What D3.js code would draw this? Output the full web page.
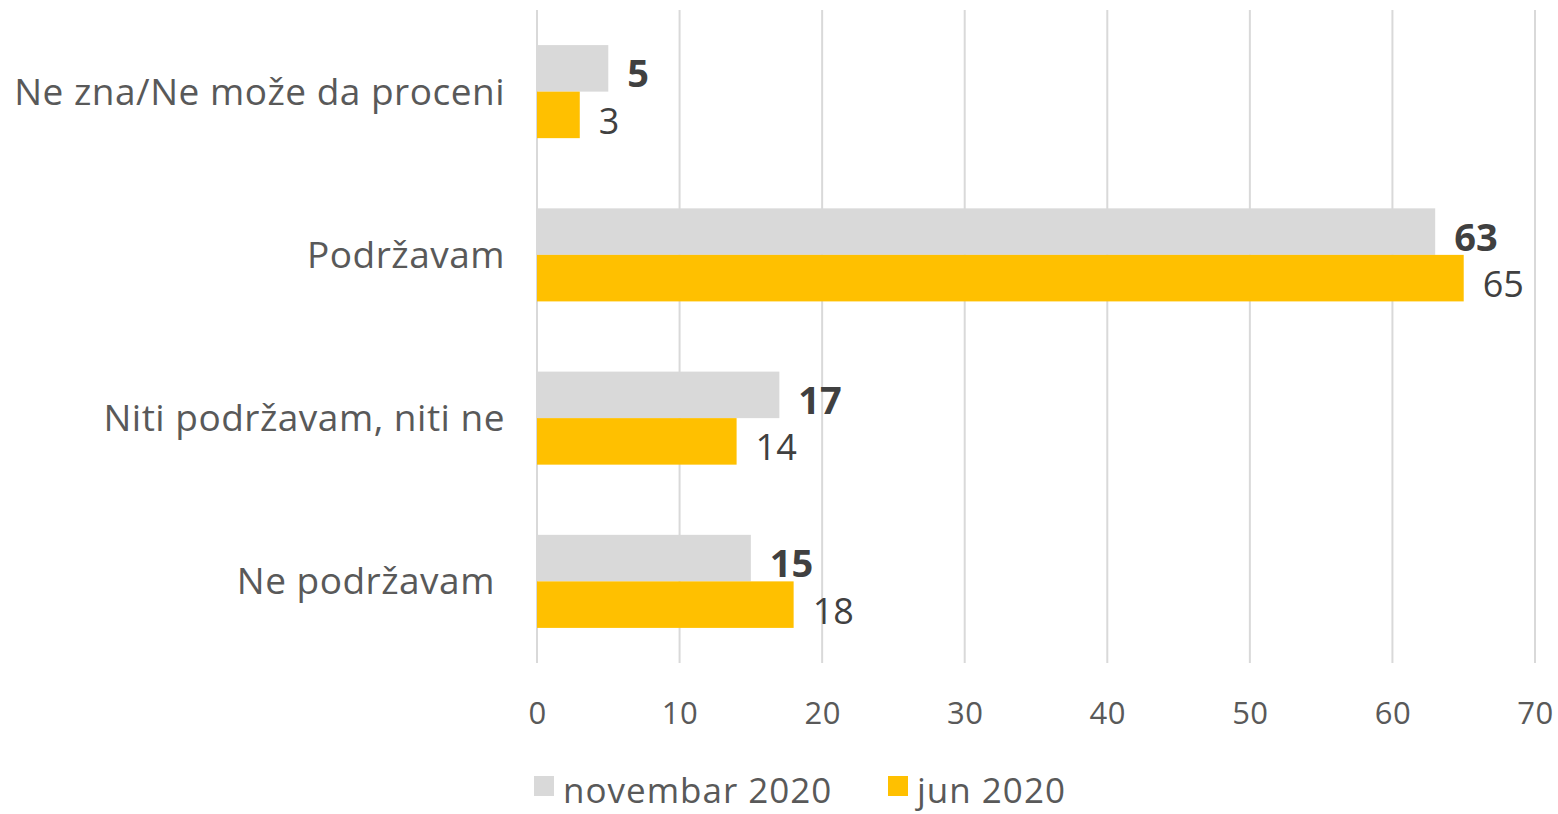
<!DOCTYPE html>
<html>
<head>
<meta charset="utf-8">
<script src="https://cdn.jsdelivr.net/npm/d3@7"></script>
<style>
  body { margin: 0; background: #fff; }
  svg text { font-family: "Open Sans", "Lato", sans-serif; }
</style>
</head>
<body>
<svg id="chart" width="1558" height="814"></svg>
<script>
// categories, top to bottom
const categories = ["Ne zna/Ne može da proceni", "Podržavam", "Niti podržavam, niti ne", "Ne podržavam "];
const seriesNames = ["novembar 2020", "jun 2020"];
const novembar2020 = [5, 63, 17, 15];
const jun2020 = [3, 65, 14, 18];
const xTicks = [0, 10, 20, 30, 40, 50, 60, 70];
const colors = ["#d9d9d9", "#ffc000"];

const svg = d3.select('#chart');
const plot = {left: 537, right: 1535, top: 10, bottom: 663};

const x = d3.scaleLinear().domain([0, 70]).range([plot.left, plot.right]);
const y0 = d3.scaleBand().domain(categories)
    .range([plot.top, plot.bottom])
    .paddingInner(0.43).paddingOuter(0.215);
const y1 = d3.scaleBand().domain(seriesNames).range([0, y0.bandwidth()]);

// grid
svg.append('g').selectAll('line')
    .data(xTicks)
    .join('line')
    .attr('x1', d => x(d)).attr('x2', d => x(d))
    .attr('y1', plot.top).attr('y2', plot.bottom)
    .attr('stroke', '#d9d9d9').attr('stroke-width', 2);

// tick labels
const xAxis = d3.axisBottom(x).tickValues(xTicks).tickSize(0).tickPadding(0);
const gx = svg.append('g').attr('transform', `translate(0,${plot.bottom + 61})`).call(xAxis);
gx.select('.domain').remove();
gx.selectAll('text')
    .attr('dy', 0)
    .attr('fill', '#595959')
    .style('font-size', '31px')
    .style('letter-spacing', '0.5px')
    .style('font-family', '"Open Sans", "Lato", sans-serif');

// category labels
svg.append('g').selectAll('text')
    .data(categories)
    .join('text')
    .attr('x', 505)
    .attr('y', d => y0(d) + y0.bandwidth() / 2 + 13)
    .attr('text-anchor', 'end')
    .attr('fill', '#595959')
    .style('font-size', '37px')
    .style('letter-spacing', '0.5px')
    .style('white-space', 'pre')
    .attr('xml:space', 'preserve')
    .text(d => d);

const rows = categories.map((c, i) => ({
    cat: c,
    vals: [
        {s: seriesNames[0], v: novembar2020[i], k: 0},
        {s: seriesNames[1], v: jun2020[i], k: 1}
    ]
}));

const groups = svg.append('g').selectAll('g.cat')
    .data(rows)
    .join('g')
    .attr('class', 'cat')
    .attr('transform', d => `translate(0,${y0(d.cat)})`);

groups.selectAll('rect')
    .data(d => d.vals)
    .join('rect')
    .attr('x', x(0))
    .attr('y', d => y1(d.s))
    .attr('width', d => x(d.v) - x(0))
    .attr('height', y1.bandwidth())
    .attr('fill', d => colors[d.k]);

groups.selectAll('text')
    .data(d => d.vals)
    .join('text')
    .attr('x', d => x(d.v) + 19)
    .attr('y', d => y1(d.s) + y1.bandwidth() / 2 + 19)
    .attr('fill', '#404040')
    .style('font-size', d => d.k === 0 ? '38px' : '36px')
    .style('font-weight', d => d.k === 0 ? 'bold' : 'normal')
    .text(d => d.v);

// legend
const legendItems = [
    {name: seriesNames[0], color: colors[0], x: 534},
    {name: seriesNames[1], color: colors[1], x: 888}
];
const lg = svg.append('g').selectAll('g')
    .data(legendItems)
    .join('g')
    .attr('transform', d => `translate(${d.x},776)`);
lg.append('rect').attr('width', 20).attr('height', 20).attr('fill', d => d.color);
lg.append('text')
    .attr('x', 29).attr('y', 27)
    .attr('fill', '#595959')
    .style('font-size', '35px')
    .style('letter-spacing', '1px')
    .text(d => d.name);
</script>
</body>
</html>
